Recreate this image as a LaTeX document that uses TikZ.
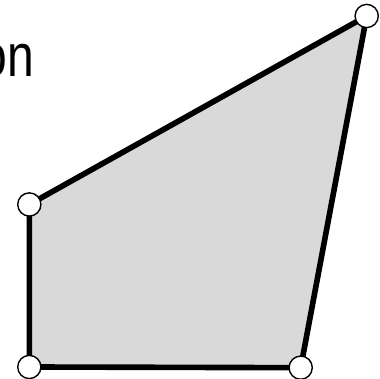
\documentclass[tikz,border=0pt]{standalone}
\usepackage{fontspec}
\setmainfont{Liberation Sans}
\tikzset{
  facefill/.style={fill=black!15, draw=black, line width=4pt, line join=miter},
  corner/.style={circle, fill=white, draw=black, line width=1pt, minimum size=0.58cm, inner sep=0pt},
  bigword/.style={font=\fontsize{42.7}{50}\selectfont, inner sep=0pt, anchor=base east, xscale=0.8},
}

\begin{document}
\begin{tikzpicture}
\useasboundingbox (0,0) rectangle (9.5,9.475);
\coordinate (p1) at (0.733,4.363);
\coordinate (p2) at (0.733,0.300);
\coordinate (p3) at (7.517,0.283);
\coordinate (p4) at (9.167,9.075);
\draw[facefill] (p1) -- (p2) -- (p3) -- (p4) -- cycle;
\node[corner] (c1) at (p1) {};
\node[corner] (c2) at (p2) {};
\node[corner] (c3) at (p3) {};
\node[corner] (c4) at (p4) {};
\node[bigword] (word) at (0.86,7.55) {on};
\end{tikzpicture}
\end{document}
